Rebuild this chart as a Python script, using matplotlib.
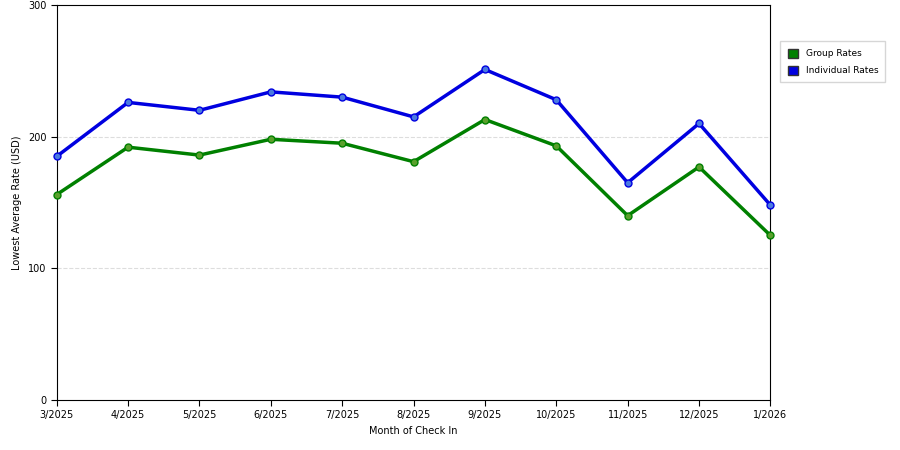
import matplotlib
matplotlib.use("Agg")
import matplotlib.pyplot as plt
from matplotlib.patches import Patch

months = ["3/2025", "4/2025", "5/2025", "6/2025", "7/2025", "8/2025",
          "9/2025", "10/2025", "11/2025", "12/2025", "1/2026"]
group_rates = [156, 192, 186, 198, 195, 181, 213, 193, 140, 177, 125]
individual_rates = [185, 226, 220, 234, 230, 215, 251, 228, 165, 210, 148]

fig = plt.figure(figsize=(9, 4.5), dpi=100)
ax = fig.add_axes([0.063, 0.111, 0.793, 0.878])
x = range(len(months))

ax.plot(x, group_rates, color="#008000", lw=2.5, marker="o", ms=5,
        mfc="#5aa02c", mec="#008000", zorder=3, clip_on=False)
ax.plot(x, individual_rates, color="#0000e0", lw=2.5, marker="o", ms=5,
        mfc="#4a7ae0", mec="#0000e0", zorder=3, clip_on=False)

ax.set_xlim(0, len(months) - 1)
ax.set_ylim(0, 300)
ax.set_yticks([0, 100, 200, 300])
ax.set_xticks(list(x))
ax.set_xticklabels(months)
ax.tick_params(labelsize=7, length=4)
for y in [100, 200]:
    ax.axhline(y, color="#dddddd", lw=0.8, ls="--", zorder=1)
ax.set_xlabel("Month of Check In", fontsize=7)
ax.set_ylabel("Lowest Average Rate (USD)", fontsize=7)

handles = [Patch(facecolor="#008000", edgecolor="#333333", label="Group Rates"),
           Patch(facecolor="#0000e0", edgecolor="#333333", label="Individual Rates")]
fig.legend(handles=handles, loc="upper left", bbox_to_anchor=(0.862, 0.918),
           fontsize=6.5, frameon=True, fancybox=False, edgecolor="#cccccc",
           handlelength=1.2, handleheight=1.2, borderpad=0.8, labelspacing=0.8)

fig.savefig("out.png", dpi=100)
